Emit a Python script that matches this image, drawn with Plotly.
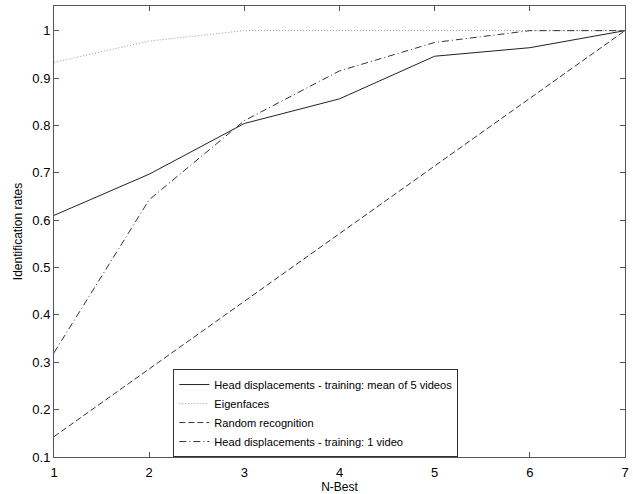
import plotly.graph_objects as go

n_best = [1, 2, 3, 4, 5, 6, 7]
head_mean5 = [0.61, 0.697, 0.804, 0.856, 0.946, 0.964, 1.0]
eigenfaces = [0.933, 0.978, 1.0, 1.0, 1.0, 1.0, 1.0]
random_rec = [0.143, 0.286, 0.429, 0.571, 0.714, 0.857, 1.0]
head_1video = [0.32, 0.643, 0.81, 0.915, 0.975, 1.0, 1.0]

x_ticks = [1, 2, 3, 4, 5, 6, 7]
y_ticks = [0.1, 0.2, 0.3, 0.4, 0.5, 0.6, 0.7, 0.8, 0.9, 1.0]
y_tick_text = ["0.1", "0.2", "0.3", "0.4", "0.5", "0.6", "0.7", "0.8", "0.9", "1"]

names = ["Head displacements - training: mean of 5 videos", "Eigenfaces",
         "Random recognition", "Head displacements - training: 1 video"]
series = [head_mean5, eigenfaces, random_rec, head_1video]
dashes = ["solid", "1px,2px", "6px,3px", "7px,3px,1px,3px"]
colors = ["#222222", "#999999", "#333333", "#333333"]

FONT = "Liberation Sans"

fig = go.Figure()
for nm, ys, d, c in zip(names, series, dashes, colors):
    fig.add_trace(go.Scatter(x=n_best, y=ys, mode="lines", name=nm,
                             line=dict(color=c, width=1, dash=d)))

axis_common = dict(showgrid=False, zeroline=False, showline=True, mirror="ticks",
                   linecolor="#555555", linewidth=1, ticks="inside", ticklen=5,
                   tickcolor="#555555", automargin=False,
                   tickfont=dict(family=FONT, size=13, color="black"))
fig.update_xaxes(range=[1, 7], tickvals=x_ticks, ticktext=[str(v) for v in x_ticks],
                 ticklabelstandoff=3,
                 title=dict(text="N-Best", standoff=0,
                            font=dict(family=FONT, size=12, color="black")), **axis_common)
fig.update_yaxes(range=[0.1, 1.052], tickvals=y_ticks, ticktext=y_tick_text,
                 title=dict(text="Identification rates", standoff=7,
                            font=dict(family=FONT, size=12, color="black")), **axis_common)
fig.update_layout(
    width=633, height=494,
    margin=dict(l=54, r=8, t=6, b=37),
    paper_bgcolor="white", plot_bgcolor="white",
    font=dict(family=FONT, size=12, color="black"),
    legend=dict(x=0.209, y=0.195, xanchor="left", yanchor="top",
                bgcolor="white", bordercolor="#333333", borderwidth=1,
                font=dict(family=FONT, size=11.1, color="black"),
                tracegroupgap=0, itemwidth=30),
)
fig.write_html("out.html", post_script="document.body.style.margin='0';",
               config={"displayModeBar": False})
